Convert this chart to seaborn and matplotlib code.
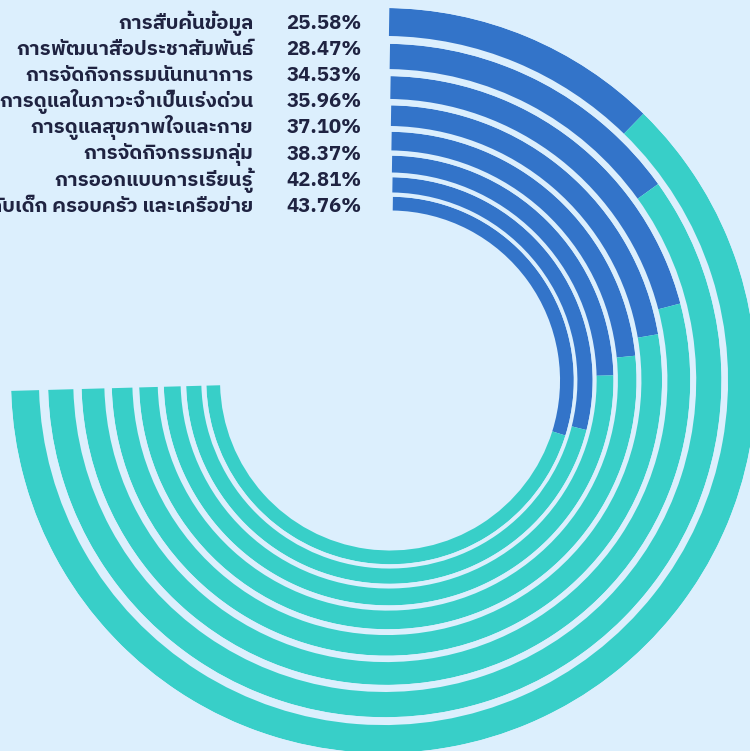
import numpy as np
import matplotlib
matplotlib.use("Agg")
import matplotlib.pyplot as plt
import seaborn as sns

# data, outer ring first
labels = [
    "การสืบค้นข้อมูล",
    "การพัฒนาสื่อประชาสัมพันธ์",
    "การจัดกิจกรรมนันทนาการ",
    "การดูแลในภาวะจำเป็นเร่งด่วน",
    "การดูแลสุขภาพใจและกาย",
    "การจัดกิจกรรมกลุ่ม",
    "การออกแบบการเรียนรู้",
    "การทำงานร่วมกับเด็ก ครอบครัว และเครือข่าย",
]
values = [25.58, 28.47, 34.53, 35.96, 37.10, 38.37, 42.81, 43.76]
value_text = ["25.58%", "28.47%", "34.53%", "35.96%", "37.10%", "38.37%", "42.81%", "43.76%"]

# angular scale of the rings (value domain spread over roughly 3/4 circle)
axis_lo, axis_hi = 13.1, 90.1
start_deg, span_deg = 0.9, 267.5

sns.set_theme(style="white")
plt.rcParams["font.family"] = ["IBM Plex Sans Thai", "DejaVu Sans"]

bg = "#DCEFFD"
blue = "#3374C9"
teal = "#38CFC8"
ink = "#1F2341"

W, H = 750, 751
fig = plt.figure(figsize=(W / 100, H / 100), dpi=100, facecolor=bg)


def to_rad(v):
    return np.deg2rad(start_deg + (v - axis_lo) / (axis_hi - axis_lo) * span_deg)


theta0 = np.deg2rad(start_deg)
theta_end = np.deg2rad(start_deg + span_deg)

# each ring is a scaled copy of the outer one
R0, cx0, cy, pivot_x, scale = 372.5, 383.5, 380.5, 396.4, 0.904
for i, v in enumerate(values):
    R = R0 * scale ** i
    cx = pivot_x + (cx0 - pivot_x) * scale ** i
    ax = fig.add_axes([(cx - R) / W, (H - cy - R) / H, 2 * R / W, 2 * R / H],
                      projection="polar")
    ax.set_theta_zero_location("N")
    ax.set_theta_direction(-1)
    ax.set_ylim(0, 1)
    ax.set_axis_off()
    tv = to_rad(v)
    ax.bar(theta0, 0.075, width=tv - theta0, bottom=0.925, align="edge",
           color=blue, linewidth=0)
    ax.bar(tv, 0.075, width=theta_end - tv, bottom=0.925, align="edge",
           color=teal, linewidth=0)

for i, (lab, txt) in enumerate(zip(labels, value_text)):
    yb = 1 - (29.3 + 26.04 * i) / H
    fig.text(253.3 / W, yb, lab, ha="right", va="baseline", fontsize=14.7,
             fontweight="bold", color=ink)
    fig.text(361.7 / W, yb, txt, ha="right", va="baseline", fontsize=14.7,
             fontweight="bold", color=ink)

fig.savefig("out.png", dpi=100, facecolor=bg)
